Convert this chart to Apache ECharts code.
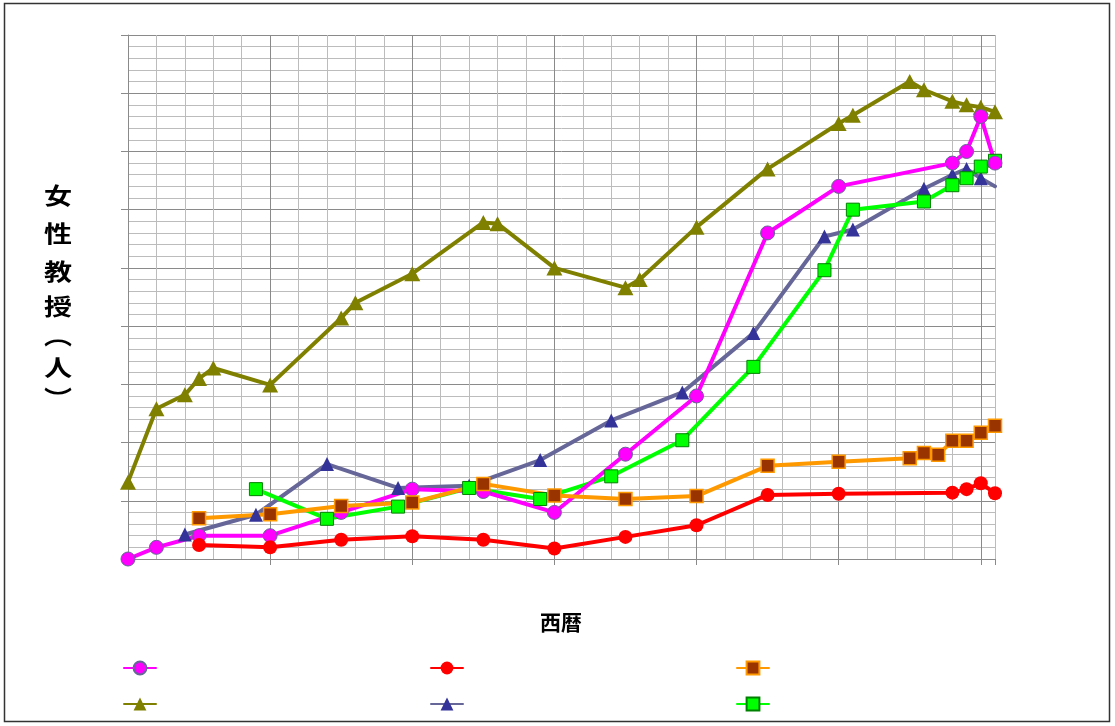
<!DOCTYPE html>
<html><head><meta charset="utf-8">
<script src="https://cdn.jsdelivr.net/npm/echarts@6/dist/echarts.min.js"></script>
<style>html,body{margin:0;padding:0;background:#fff}#c{width:1115px;height:726px}</style>
</head><body><div id="c"></div>
<script>
// ---- data (y unit = one minor grid step) ----
const xTickMajor = 10;   // years per major vertical grid line
const xTickMinor = 2;    // years per minor vertical grid line
const yTickMajor = 5;
const magentaYears = [1950,1952,1955,1960,1965,1970,1975,1980,1985,1990,1995,2000,2008,2009,2010,2011];
const magentaVals  = [0,1,2,2,4,6,5.8,4,9,14,28,32,34,35,38,34];
const redYears = [1955,1960,1965,1970,1975,1980,1985,1990,1995,2000,2008,2009,2010,2011];
const redVals  = [1.2,1.0,1.65,1.95,1.65,0.9,1.9,2.9,5.5,5.6,5.7,6.0,6.5,5.65];
const orangeYears = [1955,1960,1965,1970,1975,1980,1985,1990,1995,2000,2005,2006,2007,2008,2009,2010,2011];
const orangeVals  = [3.5,3.85,4.55,4.85,6.45,5.45,5.15,5.4,8.0,8.35,8.65,9.1,8.95,10.15,10.15,10.85,11.45];
const oliveYears = [1950,1952,1954,1955,1956,1960,1965,1966,1970,1975,1976,1980,1985,1986,1990,1995,2000,2001,2005,2006,2008,2009,2010,2011];
const oliveVals  = [6.6,12.9,14.1,15.5,16.4,14.95,20.7,22.0,24.5,28.9,28.8,25.0,23.3,24.0,28.5,33.5,37.4,38.1,41.0,40.3,39.3,39.0,38.8,38.4];
const blueYears = [1954,1959,1964,1969,1974,1979,1984,1989,1994,1999,2001,2006,2008,2009,2010,2011];
const blueVals  = [2.1,3.8,8.15,6.1,6.3,8.5,11.9,14.3,19.4,27.7,28.3,31.8,33.0,33.5,32.7,32.0];
const blueNoMarkerYears = [2011];
const greenYears = [1959,1964,1969,1974,1979,1984,1989,1994,1999,2001,2006,2008,2009,2010,2011];
const greenVals  = [6.0,3.45,4.5,6.1,5.15,7.1,10.2,16.5,24.8,30.0,30.7,32.1,32.7,33.7,34.2];
const xTitle = '西暦';
const yTitleChars = ['女','性','教','授','︵','人','︶'];

// ---- chart ----
const chart = echarts.init(document.getElementById('c'), null, {renderer:'canvas'});
function pts(xs, ys, noMarker){
  return xs.map((x,i)=> (noMarker && noMarker.indexOf(x) >= 0) ? {value:[x,ys[i]], symbol:'none'} : [x, ys[i]]);
}
const MAJOR = '#8a8a8a', MINOR = '#bcbcbc';
function lineSeries(name, data, lineColor, symbol, size, fill, border, borderW){
  return {
    name, type:'line', xAxisIndex:1, data, clip:false,
    symbol, symbolSize:size, showSymbol:true,
    lineStyle:{color:lineColor, width:4, cap:'round', join:'round'},
    itemStyle:{color:fill, borderColor:border, borderWidth:borderW},
    emphasis:{disabled:true}
  };
}
const seriesList = [
  lineSeries('系列4', pts(oliveYears, oliveVals), '#808000', 'triangle', [16,15], '#808000', '#808000', 0),
  lineSeries('系列5', pts(blueYears, blueVals, blueNoMarkerYears), '#666699', 'triangle', [14,14], '#333399', '#333399', 0),
  lineSeries('系列6', pts(greenYears, greenVals), '#00FF00', 'rect', 13, '#00FF00', '#008000', 1),
  lineSeries('系列1', pts(magentaYears, magentaVals), '#FF00FF', 'circle', 14, '#FF00FF', '#666699', 1),
  lineSeries('系列3', pts(orangeYears, orangeVals), '#FF9900', 'rect', 13, '#993300', '#FF9900', 1.5),
  lineSeries('系列2', pts(redYears, redVals), '#FF0000', 'circle', 14, '#FF0000', '#FF0000', 0)
];
const legendPos = [
  ['系列1', 123, 660], ['系列2', 430, 660], ['系列3', 736, 660],
  ['系列4', 123, 696], ['系列5', 430, 696], ['系列6', 736, 696]
];
const legends = legendPos.map(p => ({
  data:[p[0]], left:p[1], top:p[2], padding:0, itemWidth:32, itemHeight:16,
  formatter:()=>'', selectedMode:false, textStyle:{fontSize:1}
}));

// vertical stacked y-axis title: one glyph per line (vertical-form brackets ︵ ︶ sit off-centre in their em box)
const yTitleY = [195, 233, 271, 306, 335, 367, 398];
const titleFont = {fontFamily:'"Noto Sans CJK JP", sans-serif', fontWeight:'bold', fontSize:22};
const yTitleEls = yTitleChars.map((c,i)=>({
  type:'text', x:58, y:yTitleY[i], scaleX:1.22,
  style:Object.assign({text:c, fill:'#000', align:'center', verticalAlign:'middle'}, titleFont, {fontSize:23}), silent:true
}));

chart.setOption({
  animation:false,
  backgroundColor:'#ffffff',
  grid:{left:128, right:120, top:35, bottom:167, containLabel:false},
  xAxis:[
    {type:'value', min:1950, max:2011, interval:xTickMinor, position:'bottom',
     axisLine:{show:false}, axisTick:{show:false}, axisLabel:{show:false},
     splitLine:{show:true, lineStyle:{color:MINOR, width:1}}},
    {type:'value', min:1950, max:2011, interval:xTickMajor, position:'bottom',
     axisLine:{show:true, onZero:false, lineStyle:{color:MAJOR, width:1}},
     axisTick:{show:true, length:6, lineStyle:{color:MAJOR}}, axisLabel:{show:false},
     splitLine:{show:true, showMaxLine:false, lineStyle:{color:MAJOR, width:1}}}
  ],
  yAxis:{type:'value', min:0, max:45, interval:yTickMajor,
    axisLine:{show:true, lineStyle:{color:MAJOR, width:1}},
    axisTick:{show:true, length:7, lineStyle:{color:MAJOR}},
    axisLabel:{show:false},
    splitLine:{show:true, lineStyle:{color:MAJOR, width:1}},
    minorTick:{show:false, splitNumber:5},
    minorSplitLine:{show:true, lineStyle:{color:MINOR, width:1}}},
  legend: legends,
  series: seriesList,
  graphic:[
    {type:'rect', shape:{x:4.5, y:3.5, width:1105, height:718}, style:{fill:'none', stroke:'#333', lineWidth:1.5}, silent:true},
    {type:'text', x:561, y:622, style:Object.assign({text:xTitle, fill:'#000', align:'center', verticalAlign:'middle'}, titleFont, {fontSize:21}), silent:true}
  ].concat(yTitleEls)
});
</script></body></html>
